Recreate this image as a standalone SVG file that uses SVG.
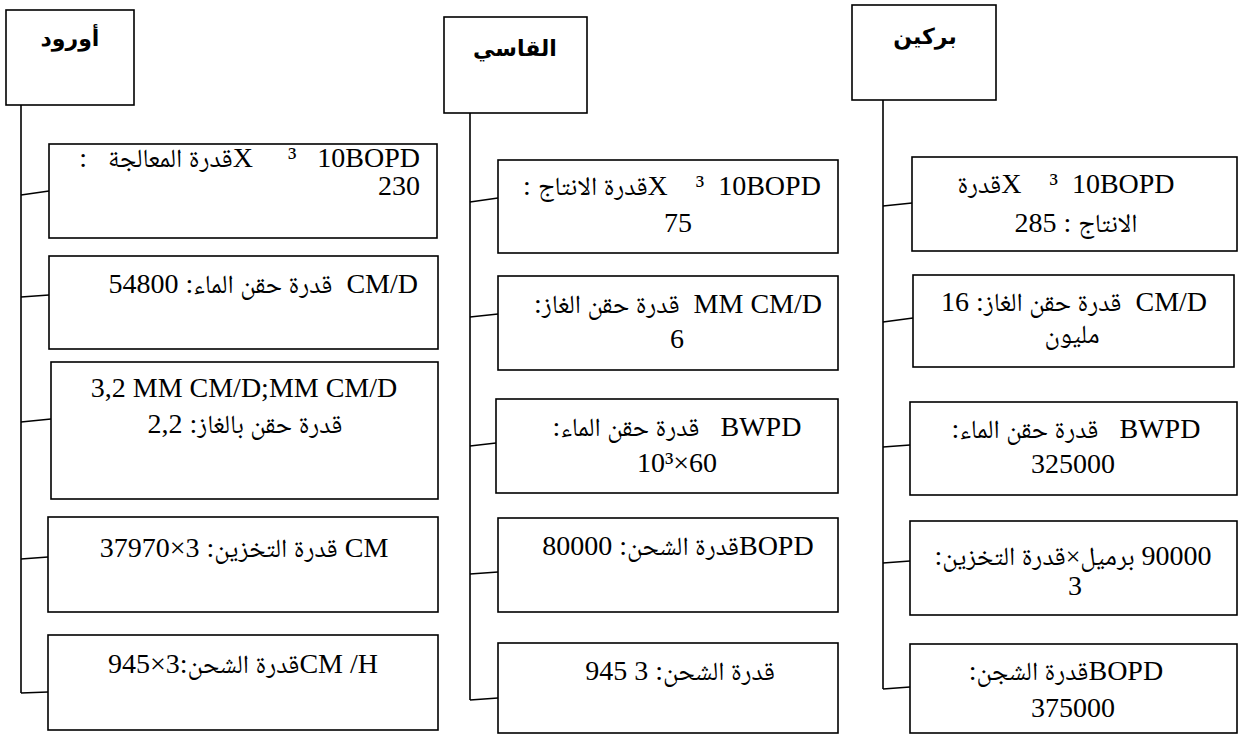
<svg xmlns="http://www.w3.org/2000/svg" width="1238" height="736" viewBox="0 0 1238 736">
<style>
.bx{fill:#fff;stroke:#000;stroke-width:1.6}
.ln{fill:none;stroke:#000;stroke-width:1.6}
.t{font-family:"Liberation Serif","Noto Naskh Arabic","DejaVu Sans",serif;font-size:28px;fill:#000;white-space:pre;direction:ltr}
.ar{font-size:26px}
.h{font-family:"Liberation Sans","DejaVu Sans",sans-serif;font-size:22px;font-weight:bold;fill:#000;text-anchor:middle}
.m{text-anchor:middle}
.e{text-anchor:end}
</style>
<rect width="1238" height="736" fill="#fff"/>
<g id="connectors">
<path class="ln" d="M21,104 V693"/>
<path class="ln" d="M21,195 L49,191"/>
<path class="ln" d="M21,297 L49,295"/>
<path class="ln" d="M21,422 L51,419"/>
<path class="ln" d="M21,559 L48,557"/>
<path class="ln" d="M21,693 L48,692"/>
<path class="ln" d="M470,112 V700"/>
<path class="ln" d="M470,202 L498,198"/>
<path class="ln" d="M470,317 L498,314"/>
<path class="ln" d="M470,446 L496,443"/>
<path class="ln" d="M470,574 L498,572"/>
<path class="ln" d="M470,700 L498,698"/>
<path class="ln" d="M883,99 V689"/>
<path class="ln" d="M883,206 L912,203"/>
<path class="ln" d="M883,322 L913,318"/>
<path class="ln" d="M883,447 L910,445"/>
<path class="ln" d="M883,563 L910,561"/>
<path class="ln" d="M883,689 L910,687"/>
</g>
<g id="node-orwd"><rect class="bx" x="6" y="10" width="128" height="95"/><text class="h" x="70" y="46">أورود</text></g>
<g id="node-qasi"><rect class="bx" x="444" y="17" width="143" height="96"/><text class="h" x="515" y="56">القاسي</text></g>
<g id="node-barkin"><rect class="bx" x="852" y="5" width="144" height="95"/><text class="h" x="925" y="44">بركين</text></g>

<g id="node-l1"><rect class="bx" x="49" y="144" width="388" height="94"/>
<text class="t e" x="420" y="167">:   <tspan class="ar">قدرة المعالجة</tspan>X     ³   10BOPD</text>
<text class="t e" x="420" y="195">230</text></g>
<g id="node-l2"><rect class="bx" x="49" y="256" width="389" height="93"/>
<text class="t e" x="418" y="293">54800 :<tspan class="ar">قدرة حقن الماء</tspan>  CM/D</text></g>
<g id="node-l3"><rect class="bx" x="51" y="362" width="387" height="137"/>
<text class="t m" x="244" y="397">3,2 MM CM/D;MM CM/D</text>
<text class="t m" x="245" y="433">2,2 :<tspan class="ar">قدرة حقن بالغاز</tspan></text></g>
<g id="node-l4"><rect class="bx" x="48" y="517" width="390" height="95"/>
<text class="t m" x="244" y="557">37970×3 :<tspan class="ar">قدرة التخزين</tspan> CM</text></g>
<g id="node-l5"><rect class="bx" x="48" y="635" width="390" height="95"/>
<text class="t m" x="243" y="673">945×3:<tspan class="ar">قدرة الشحن</tspan>CM /H</text></g>

<g id="node-m1"><rect class="bx" x="498" y="160" width="340" height="93"/>
<text class="t m" x="672" y="195">: <tspan class="ar">قدرة الانتاج</tspan>X    ³  10BOPD</text>
<text class="t m" x="678" y="232">75</text></g>
<g id="node-m2"><rect class="bx" x="498" y="276" width="340" height="94"/>
<text class="t m" x="678" y="313">:<tspan class="ar">قدرة حقن الغاز</tspan>  MM CM/D</text>
<text class="t m" x="677" y="348">6</text></g>
<g id="node-m3"><rect class="bx" x="496" y="399" width="342" height="94"/>
<text class="t m" x="677" y="436">:<tspan class="ar">قدرة حقن الماء</tspan>   BWPD</text>
<text class="t m" x="677" y="472">10³×60</text></g>
<g id="node-m4"><rect class="bx" x="498" y="518" width="340" height="94"/>
<text class="t m" x="678" y="555">80000 :<tspan class="ar">قدرة الشحن</tspan>BOPD</text></g>
<g id="node-m5"><rect class="bx" x="498" y="643" width="340" height="90"/>
<text class="t m" x="680" y="680">945 3 :<tspan class="ar">قدرة الشحن</tspan></text></g>

<g id="node-r1"><rect class="bx" x="912" y="157" width="325" height="94"/>
<text class="t m" x="1066" y="193"><tspan class="ar">قدرة</tspan>X    ³  10BOPD</text>
<text class="t m" x="1076" y="232">285 : <tspan class="ar">الانتاج</tspan></text></g>
<g id="node-r2"><rect class="bx" x="913" y="275" width="321" height="92"/>
<text class="t m" x="1074" y="311">16 :<tspan class="ar">قدرة حقن الغاز</tspan>  CM/D</text>
<text class="t m" x="1072" y="343"><tspan class="ar">مليون</tspan></text></g>
<g id="node-r3"><rect class="bx" x="910" y="402" width="327" height="93"/>
<text class="t m" x="1076" y="438">:<tspan class="ar">قدرة حقن الماء</tspan>   BWPD</text>
<text class="t m" x="1073" y="473">325000</text></g>
<g id="node-r4"><rect class="bx" x="910" y="521" width="327" height="94"/>
<text class="t m" x="1073" y="565">:<tspan class="ar">برميل×قدرة التخزين</tspan>&#x200E; 90000</text>
<text class="t m" x="1075" y="595">3</text></g>
<g id="node-r5"><rect class="bx" x="910" y="644" width="327" height="89"/>
<text class="t m" x="1066" y="680">:<tspan class="ar">قدرة الشجن</tspan>BOPD</text>
<text class="t m" x="1073" y="717">375000</text></g>
</svg>
